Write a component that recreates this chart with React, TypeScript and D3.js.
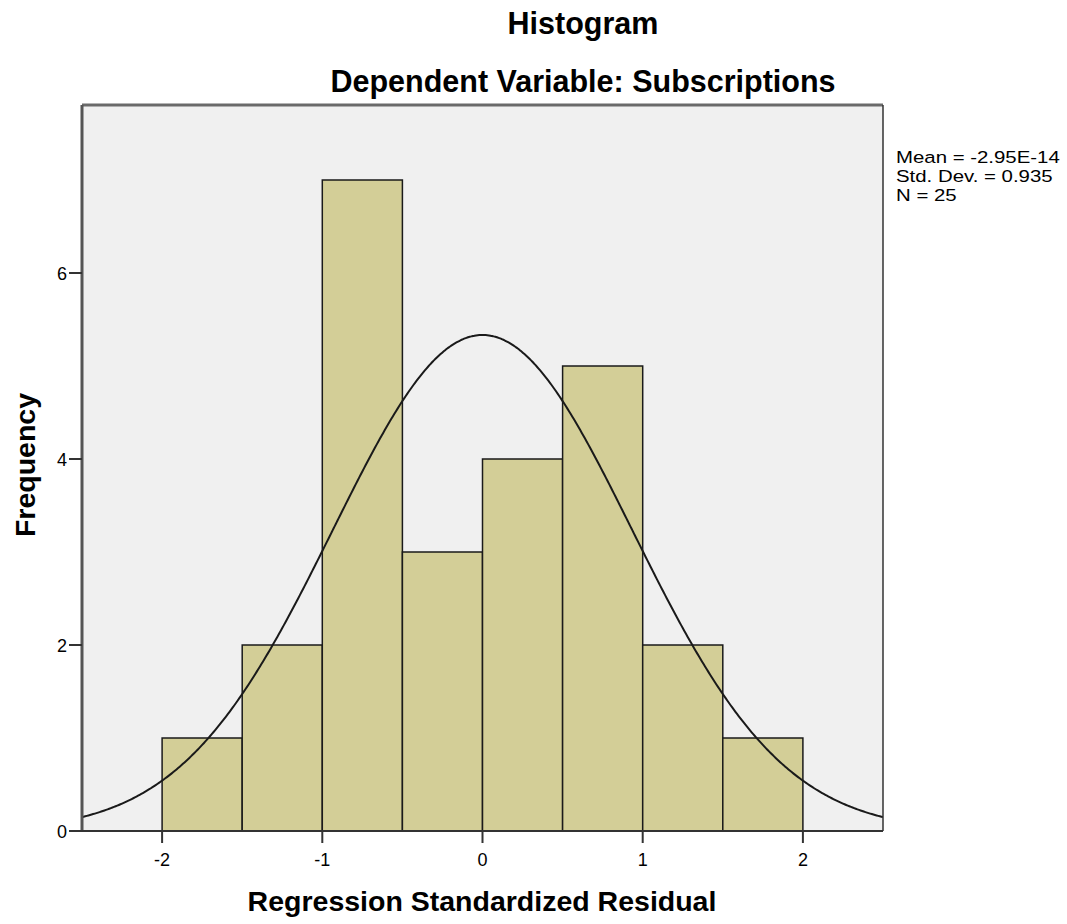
import React from "react";
import * as d3 from "d3";

const binStarts = [-2, -1.5, -1, -0.5, 0, 0.5, 1, 1.5];
const binWidth = 0.5;
const frequencies = [1, 2, 7, 3, 4, 5, 2, 1];
const xTicks = [-2, -1, 0, 1, 2];
const yTicks = [0, 2, 4, 6];
const statMean = -2.95e-14;
const statSd = 0.935;
const statN = 25;
const statLines = ["Mean = -2.95E-14", "Std. Dev. = 0.935", "N = 25"];

const W = 1067, H = 924;
const L = 82, R = 883, T = 105, B = 831;
const FONT = "'Liberation Sans', Arial, sans-serif";

export default function App() {
  const x = d3.scaleLinear().domain([-2.5, 2.5]).range([L, R]);
  const y = d3.scaleLinear().domain([0, (B - T) / 93]).range([B, T]);
  const curvePts = d3.range(-2.5, 2.5001, 0.01).map((v) => {
    const dens = Math.exp(-0.5 * ((v - statMean) / statSd) ** 2) / (statSd * Math.sqrt(2 * Math.PI));
    return [v, dens * statN * binWidth] as [number, number];
  });
  const line = d3.line<[number, number]>().x((d) => x(d[0])).y((d) => y(d[1])).curve(d3.curveBasis);
  return (
    <svg width={W} height={H} style={{ position: "absolute", left: 0, top: 0 }}>
      <rect x={0} y={0} width={W} height={H} fill="#fff" />
      <text x={583} y={34} textAnchor="middle" fontFamily={FONT} fontWeight="bold" fontSize={30.5} fill="#000">Histogram</text>
      <text x={583} y={92} textAnchor="middle" fontFamily={FONT} fontWeight="bold" fontSize={30.5} fill="#000">Dependent Variable: Subscriptions</text>
      <rect x={L} y={T} width={R - L} height={B - T} fill="#f0f0f0" />
      <defs>
        <clipPath id="pc"><rect x={L} y={T} width={R - L} height={B - T} /></clipPath>
      </defs>
      {binStarts.map((s, i) => (
        <rect key={i} x={x(s)} y={y(frequencies[i])} width={x(s + binWidth) - x(s)} height={B - y(frequencies[i])}
          fill="#d3ce97" stroke="#1a1a1a" strokeWidth={1.5} />
      ))}
      <path d={line(curvePts) || ""} fill="none" stroke="#1a1a1a" strokeWidth={2} clipPath="url(#pc)" />
      <line x1={L} y1={T} x2={R} y2={T} stroke="#6a6a6a" strokeWidth={3} />
      <line x1={L} y1={T} x2={L} y2={B} stroke="#555" strokeWidth={3} />
      <line x1={R} y1={T} x2={R} y2={B} stroke="#333" strokeWidth={1.5} />
      <line x1={L} y1={B} x2={R} y2={B} stroke="#333" strokeWidth={2} />
      {xTicks.map((t) => (
        <g key={t}>
          <line x1={x(t)} y1={B} x2={x(t)} y2={B + 12} stroke="#333" strokeWidth={2} />
          <text x={x(t)} y={B + 35} textAnchor="middle" fontFamily={FONT} fontSize={18} fill="#000">{t}</text>
        </g>
      ))}
      {yTicks.map((t) => (
        <g key={t}>
          <line x1={L - 13} y1={y(t)} x2={L} y2={y(t)} stroke="#333" strokeWidth={2} />
          <text x={L - 15} y={y(t) + 6.5} textAnchor="end" fontFamily={FONT} fontSize={18} fill="#000">{t}</text>
        </g>
      ))}
      <text x={482} y={911} textAnchor="middle" fontFamily={FONT} fontWeight="bold" fontSize={28.5} fill="#000">Regression Standardized Residual</text>
      <text transform={`translate(35,465) rotate(-90)`} textAnchor="middle" fontFamily={FONT} fontWeight="bold" fontSize={28.5} fill="#000">Frequency</text>
      <g transform="translate(896,0) scale(1.2,1)">
        {statLines.map((s, i) => (
          <text key={i} x={0} y={163 + i * 19} fontFamily={FONT} fontSize={17} fill="#000">{s}</text>
        ))}
      </g>
    </svg>
  );
}
